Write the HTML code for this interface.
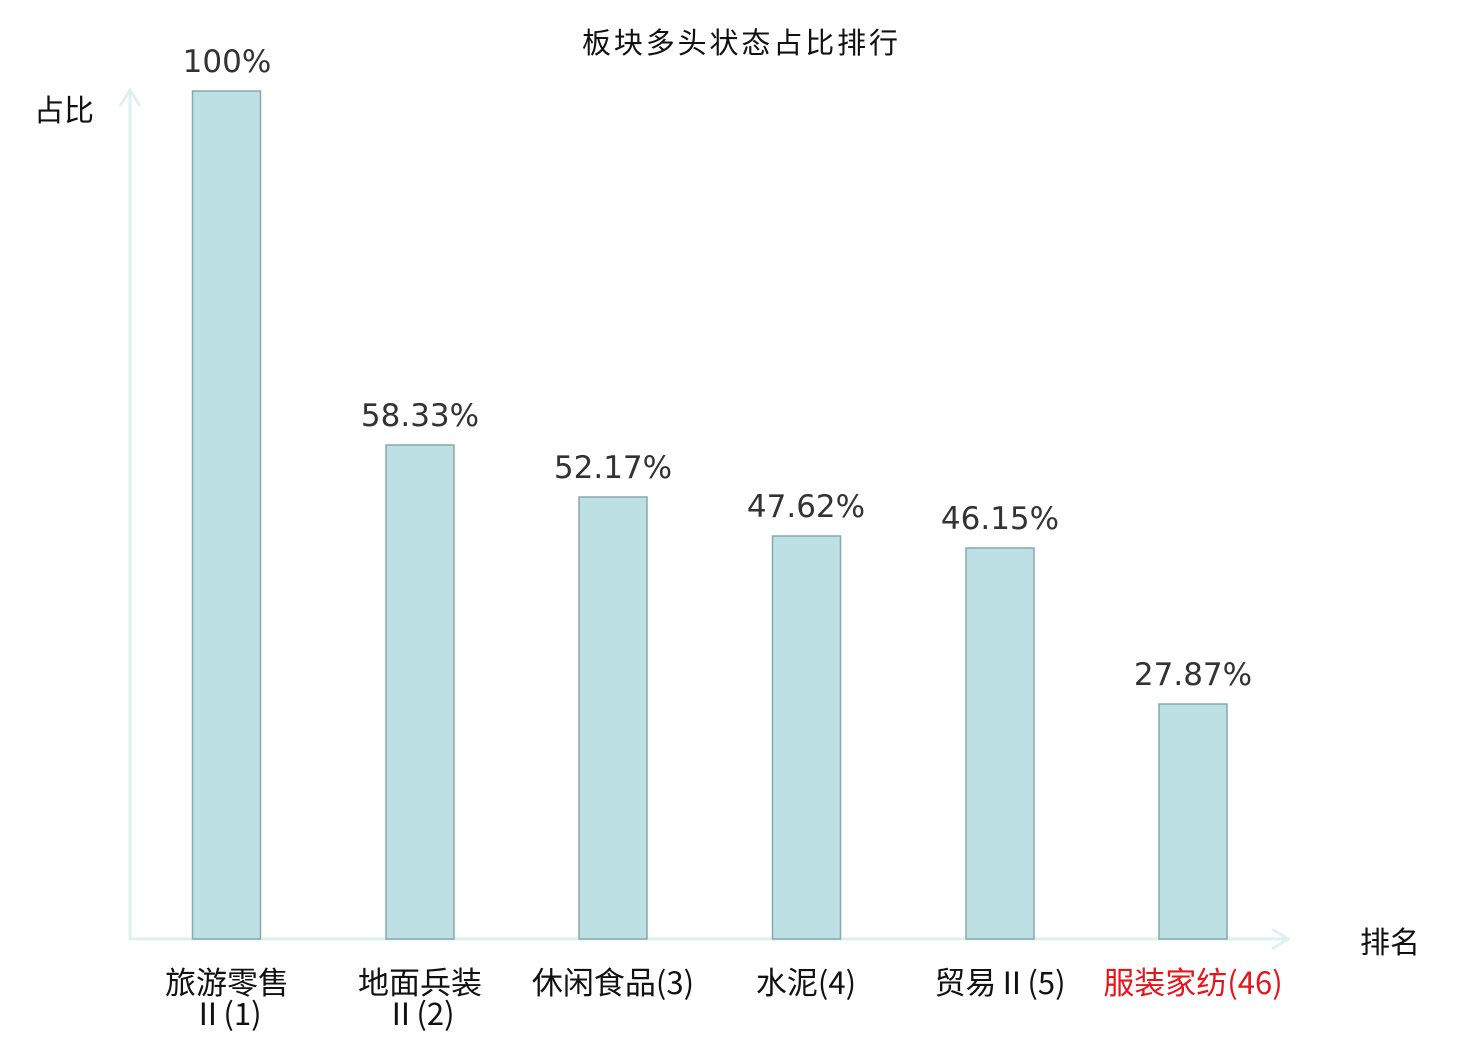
<!DOCTYPE html>
<html><head><meta charset="utf-8"><style>body{margin:0;background:#fff}svg{display:block}</style></head><body>
<svg width="1480" height="1040" xmlns="http://www.w3.org/2000/svg" font-family="'Noto Sans CJK SC',sans-serif">
<text x="740" y="53" font-size="29" text-anchor="middle" textLength="316" fill="#111">板块多头状态占比排行</text>
<text x="34" y="121" font-size="30" fill="#111">占比</text>
<text x="1360" y="953" font-size="30" fill="#111">排名</text>
<g stroke="#ddf2ef" stroke-width="3" fill="none">
<line x1="130" y1="90" x2="130" y2="940"/>
<polyline points="120,106 130,90 140,106"/>
<line x1="130" y1="939" x2="1288" y2="939"/>
<polyline points="1272,929 1288,939 1272,949"/>
</g>
<g fill="#bce0e3" stroke="#88a8aa" stroke-width="1.5">
<rect x="192.5" y="91" width="68" height="848"/>
<rect x="386" y="445" width="68" height="494"/>
<rect x="579" y="497" width="68" height="442"/>
<rect x="772.5" y="536" width="68" height="403"/>
<rect x="966" y="548" width="68" height="391"/>
<rect x="1159" y="704" width="68" height="235"/>
</g>
<g font-family="'DejaVu Sans','Liberation Sans',sans-serif" font-size="31" fill="#333" text-anchor="middle">
<text x="227" y="72">100%</text>
<text x="420" y="426">58.33%</text>
<text x="613" y="478">52.17%</text>
<text x="806" y="517">47.62%</text>
<text x="1000" y="529">46.15%</text>
<text x="1193" y="685">27.87%</text>
</g>
<g font-size="31" fill="#111" text-anchor="middle">
<text x="227" y="994">旅游零售</text>
<text x="227" y="1025">Ⅱ(1)</text>
<text x="420" y="994">地面兵装</text>
<text x="420" y="1025">Ⅱ(2)</text>
<text x="613" y="994">休闲食品(3)</text>
<text x="806" y="994">水泥(4)</text>
<text x="1000" y="994">贸易Ⅱ(5)</text>
<text x="1193" y="994" fill="#e8141a">服装家纺(46)</text>
</g>
</svg>
</body></html>
